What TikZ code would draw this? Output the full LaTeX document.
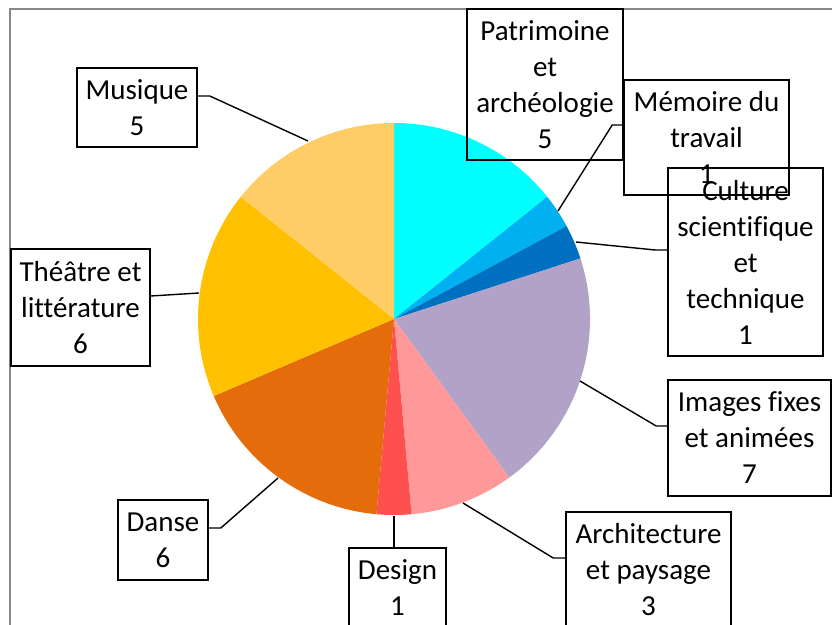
\documentclass[tikz,border=0pt]{standalone}
\usepackage{fontspec}
\setmainfont{Carlito}[Ligatures=NoCommon]
\definecolor{cPat}{HTML}{00FFFF}
\definecolor{cMem}{HTML}{00B0F0}
\definecolor{cCul}{HTML}{0070C0}
\definecolor{cImg}{HTML}{B3A2C7}
\definecolor{cArc}{HTML}{FF9999}
\definecolor{cDes}{HTML}{FF5050}
\definecolor{cDan}{HTML}{E46C0A}
\definecolor{cThe}{HTML}{FFC000}
\definecolor{cMus}{HTML}{FFCC66}
\definecolor{frameGray}{HTML}{888888}
\begin{document}
\begin{tikzpicture}[x=1pt,y=1pt,
  lbl/.style={draw=black,line width=1.6pt,inner sep=0pt,align=center,
    font=\fontsize{29}{36}\selectfont},
  leader/.style={draw=black,line width=1.4pt}]
\useasboundingbox (0,0) rectangle (832,624);
\clip (0,0) rectangle (832,624);
% outer frame
\draw[frameGray,line width=2pt] (10,-20) rectangle (860,615);
% pie
\coordinate (O) at (394,305);
\foreach \a/\b/\c in {0/5/cPat,5/6/cMem,6/7/cCul,7/14/cImg,14/17/cArc,17/18/cDes,18/24/cDan,24/30/cThe,30/35/cMus}{
  \fill[\c] (O) -- ++({90-\a*360/35}:196) arc[start angle={90-\a*360/35}, end angle={90-\b*360/35}, radius=196] -- cycle;
}
% label boxes
\node[lbl,minimum width=156pt,minimum height=151pt] (pat) at (545,539.5) {Patrimoine\\et\\archéologie\\5};
\node[lbl,minimum width=165pt,minimum height=115pt] (mem) at (706.5,486.5) {Mémoire du\\travail\\1};
\node[lbl,minimum width=155pt,minimum height=188pt] (cul) at (745.5,362) {Culture\\scientifique\\et\\technique\\1};
\node[lbl,minimum width=163pt,minimum height=116pt] (img) at (749.5,186) {Images fixes\\et animées\\7};
\node[lbl,minimum width=165pt,minimum height=116pt] (arch) at (648.5,54) {Architecture\\et paysage\\3};
\node[lbl,minimum width=97pt,minimum height=80pt] (des) at (397.5,36) {Design\\1};
\node[lbl,minimum width=90pt,minimum height=80pt] (dan) at (163,84) {Danse\\6};
\node[lbl,minimum width=139pt,minimum height=117pt] (the) at (80.5,316.5) {Théâtre et\\littérature\\6};
\node[lbl,minimum width=120pt,minimum height=79pt] (mus) at (137,516.5) {Musique\\5};
% leader end points on the pie
\coordinate (pMus) at (308,483);
\coordinate (pThe) at (199,331);
\coordinate (pDan) at (278,146);
\coordinate (pDes) at (394,108);
\coordinate (pArc) at (463,121);
\coordinate (pImg) at (580,243);
\coordinate (pCul) at (576,382);
\coordinate (pMem) at (558,413);
% leaders
\draw[leader] ([yshift=11.5pt]mus.east) -- ++(12,0) -- (pMus);
\draw[leader] ([yshift=11.5pt]the.east) -- (pThe);
\draw[leader] ([yshift=12pt]dan.east) -- ++(12,0) -- (pDan);
\draw[leader] (des.north -| pDes) -- (pDes);
\draw[leader] ([yshift=12pt]arch.west) -- ++(-12,0) -- (pArc);
\draw[leader] ([yshift=12pt]img.west) -- ++(-11,0) -- (pImg);
\draw[leader] ([yshift=12pt]cul.west) -- ++(-12,0) -- (pCul);
\draw[leader] ([yshift=12.5pt]mem.west) -- ++(-11,0) -- (pMem);
\end{tikzpicture}
\end{document}
